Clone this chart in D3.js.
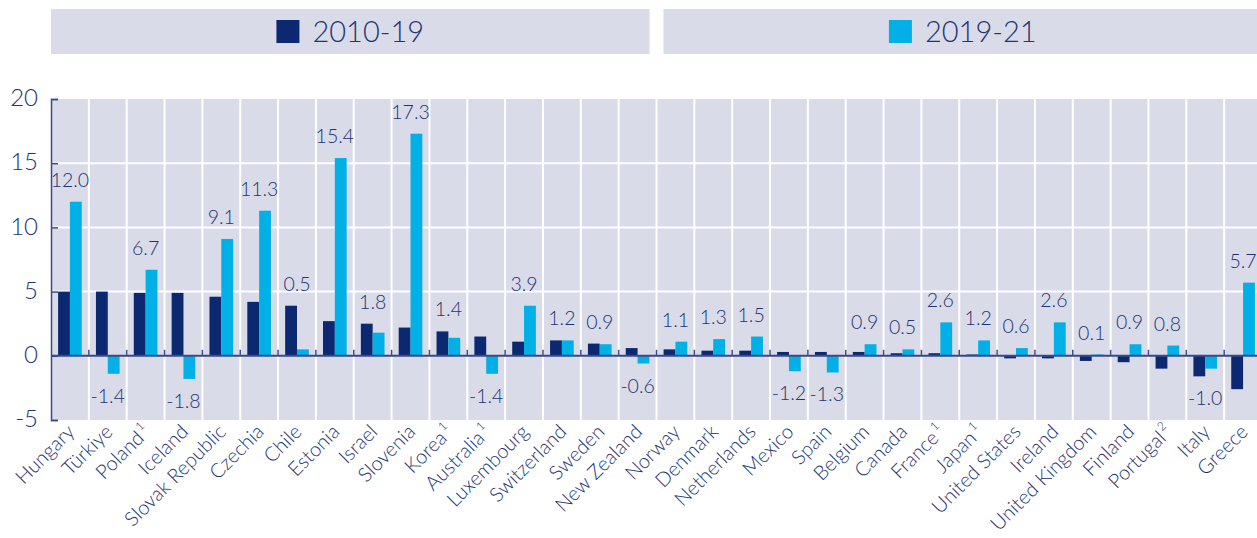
<!DOCTYPE html>
<html>
<head>
<meta charset="utf-8">
<script src="https://cdn.jsdelivr.net/npm/d3@7"></script>
<style>
  html, body { margin: 0; padding: 0; background: #ffffff; }
  svg { display: block; font-family: Lato, "Noto Sans", sans-serif; font-weight: 300; }
</style>
</head>
<body>
<svg id="chart" width="1257" height="538"></svg>
<script>
// Country order and footnote markers
const countries = ["Hungary","Türkiye","Poland","Iceland","Slovak Republic","Czechia","Chile","Estonia","Israel","Slovenia","Korea","Australia","Luxembourg","Switzerland","Sweden","New Zealand","Norway","Denmark","Netherlands","Mexico","Spain","Belgium","Canada","France","Japan","United States","Ireland","United Kingdom","Finland","Portugal","Italy","Greece"];
const notes = ["","","1","","","","","","","","1","1","","","","","","","","","","","","1","1","","","","","2","",""];

// Average annual change, 2010-19 and 2019-21
const series = ["2010-19","2019-21"];
const v2010_19 = [5.0,5.0,4.9,4.9,4.6,4.2,3.9,2.7,2.5,2.2,1.9,1.5,1.1,1.2,0.95,0.6,0.5,0.4,0.4,0.3,0.3,0.3,0.2,0.2,0.1,-0.2,-0.2,-0.4,-0.5,-1.0,-1.6,-2.6];
const v2019_21 = [12.0,-1.4,6.7,-1.8,9.1,11.3,0.5,15.4,1.8,17.3,1.4,-1.4,3.9,1.2,0.9,-0.6,1.1,1.3,1.5,-1.2,-1.3,0.9,0.5,2.6,1.2,0.6,2.6,0.1,0.9,0.8,-1.0,5.7];

const yTicks = [-5,0,5,10,15,20];
const colors = { "2010-19": "#0b2870", "2019-21": "#00b0e6" };
const ink = "#233372";
const panel = "#d9dbe9";

// Numbers are written with a plain hyphen for the minus sign
const fmt1 = v => v.toFixed(1);
const fmt0 = v => String(v);

const svg = d3.select("#chart");

const x = d3.scaleBand().domain(countries).range([51, 1262]).paddingInner(0).paddingOuter(0);
const x1 = d3.scaleBand().domain(series).range([0, x.bandwidth()]).paddingInner(0).paddingOuter(0.6);
const y = d3.scaleLinear().domain([-5, 20]).range([420, 99]);

// Legend panels
const legendW = (1262 - 51 - 14) / 2;
const legend = svg.append("g");
series.forEach((s, i) => {
  const x0 = 51 + i * (legendW + 14);
  const g = legend.append("g");
  g.append("rect").attr("x", x0).attr("y", 9).attr("width", legendW).attr("height", 45).attr("fill", panel);
  const label = g.append("text").attr("y", 42).attr("font-size", 29).attr("fill", ink).text(s);
  const tw = label.node().getComputedTextLength();
  const total = 23 + 13 + tw;
  const start = x0 + legendW / 2 - total / 2;
  g.append("rect").attr("x", start).attr("y", 20).attr("width", 23).attr("height", 23).attr("fill", colors[s]);
  label.attr("x", start + 36);
});

// Plot panel
svg.append("rect").attr("x", 51).attr("y", y(20)).attr("width", 1262 - 51).attr("height", y(-5) - y(20)).attr("fill", panel);

// Horizontal grid
svg.append("g").selectAll("line").data(yTicks.filter(t => t > -5 && t < 20 && t !== 0)).join("line")
  .attr("x1", 51).attr("x2", 1262).attr("y1", d => y(d)).attr("y2", d => y(d))
  .attr("stroke", "#ffffff").attr("stroke-width", 2);

// Vertical grid at category boundaries
const bounds = countries.slice(1).map(c => x(c));
svg.append("g").selectAll("line").data(bounds).join("line")
  .attr("x1", d => d).attr("x2", d => d).attr("y1", y(20)).attr("y2", y(-5))
  .attr("stroke", "#ffffff").attr("stroke-width", 2);

// Bars
const rows = countries.map((c, i) => ({ c, i, vals: [v2010_19[i], v2019_21[i]] }));
const groups = svg.append("g").selectAll("g").data(rows).join("g")
  .attr("transform", d => `translate(${x(d.c)},0)`);
groups.selectAll("rect").data(d => d.vals.map((v, k) => ({ s: series[k], v }))).join("rect")
  .attr("x", d => x1(d.s)).attr("width", x1.bandwidth())
  .attr("y", d => y(Math.max(0, d.v))).attr("height", d => Math.abs(y(d.v) - y(0)))
  .attr("fill", d => colors[d.s]);

// Value labels for 2019-21, placed clear of both bars
svg.append("g").selectAll("text").data(rows).join("text")
  .attr("x", d => x(d.c) + x.bandwidth() / 2)
  .attr("y", d => {
    const v = d.vals[1];
    if (v >= 0) return y(Math.max(v, d.vals[0], 0)) - 15;
    return y(Math.min(v, d.vals[0], 0)) + 15 + 14;
  })
  .attr("text-anchor", "middle").attr("font-size", 19.5).attr("fill", ink)
  .text(d => fmt1(d.vals[1]));

// Zero axis with ticks at category boundaries
svg.append("line").attr("x1", 51).attr("x2", 1262).attr("y1", y(0)).attr("y2", y(0))
  .attr("stroke", "#3a4a86").attr("stroke-width", 2);
svg.append("g").selectAll("line").data(bounds).join("line")
  .attr("x1", d => d).attr("x2", d => d).attr("y1", y(0)).attr("y2", y(0) - 6)
  .attr("stroke", "#3a4a86").attr("stroke-width", 1.5);

// Y axis
const yAxis = d3.axisLeft(y).tickValues(yTicks).tickSize(-7).tickPadding(13).tickFormat(fmt0);
const ya = svg.append("g").attr("transform", "translate(51,0)").call(yAxis);
ya.select(".domain").attr("stroke", "#3a4a86").attr("stroke-width", 1.5);
ya.selectAll(".tick line").attr("stroke", "#3a4a86").attr("stroke-width", 1.5);
ya.selectAll(".tick text").attr("font-size", 24).attr("fill", ink)
  .attr("font-family", "Lato, 'Noto Sans', sans-serif").attr("dy", "0.28em");

// Category labels
const xl = svg.append("g").selectAll("text").data(rows).join("text")
  .attr("transform", d => `translate(${x(d.c) + x.bandwidth() / 2 + 6},433) rotate(-45)`)
  .attr("text-anchor", "end").attr("font-size", 20).attr("fill", ink);
xl.append("tspan").text(d => d.c);
xl.filter(d => notes[d.i] !== "").append("tspan")
  .attr("font-size", 12).attr("dx", 2).attr("dy", -9).text(d => notes[d.i]);
</script>
</body>
</html>
